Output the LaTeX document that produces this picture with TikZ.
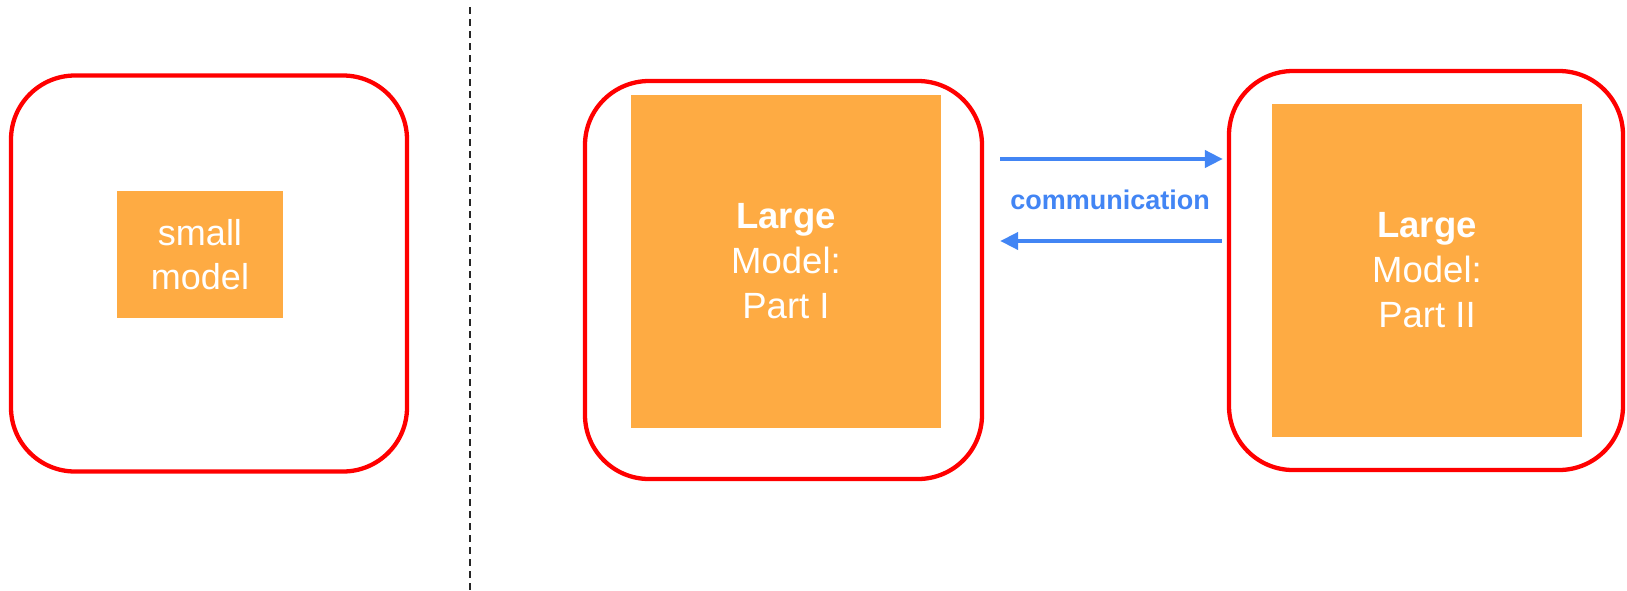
\documentclass[tikz,border=0pt]{standalone}
\usepackage{fontspec}
\setmainfont{Liberation Sans}
\usetikzlibrary{arrows.meta}
\definecolor{boxred}{HTML}{FF0000}
\definecolor{modelorange}{HTML}{FEAB43}
\definecolor{commblue}{HTML}{4285F4}
\tikzset{
  device/.style={draw=boxred, line width=4.3pt, rounded corners=64pt, inner sep=0pt, fill=white},
  model/.style={fill=modelorange, inner sep=0pt, outer sep=0pt, text=white, align=center},
  bigtext/.style={font=\fontsize{36.5}{45}\selectfont},
  smalltext/.style={font=\fontsize{36}{43.5}\selectfont},
  comm/.style={draw=commblue, line width=4pt, -{Triangle[length=18pt,width=17pt]}},
  divider/.style={draw=black!85, line width=1.5pt, dash pattern=on 7pt off 5pt}
}
\begin{document}
\begin{tikzpicture}[x=1pt,y=-1pt]
  \useasboundingbox (0,0) rectangle (1627,590);

  % separator between the single-device and the split setting
  \coordinate (divtop) at (470,7);
  \coordinate (divbot) at (470,590);
  \draw[divider] (divtop) -- (divbot);

  % devices
  \node[device, minimum width=396pt, minimum height=396pt] (leftbox) at (209,273.5) {};
  \node[device, minimum width=397pt, minimum height=398pt] (midbox) at (783.5,280) {};
  \node[device, minimum width=394pt, minimum height=399pt] (rightbox) at (1426,270.5) {};

  % models
  \node[model, smalltext, minimum width=166pt, minimum height=127pt] (small) at (200,254.5) {small\\model};
  \node[model, bigtext, minimum width=310pt, minimum height=333pt] (partone) at (786,261.5) {\textbf{Large}\\Model:\\Part I};
  \node[model, bigtext, minimum width=310pt, minimum height=333pt] (parttwo) at (1427,270.5) {\textbf{Large}\\Model:\\Part II};

  % communication between the two parts
  \coordinate (uplane) at (0,159);
  \coordinate (downlane) at (0,241);
  \draw[comm, shorten <=16pt, shorten >=4pt] (midbox.east |- uplane) -- (rightbox.west |- uplane);
  \draw[comm, shorten <=5pt, shorten >=16pt] (rightbox.west |- downlane) -- (midbox.east |- downlane);
  \node[anchor=base, text=commblue, font=\fontsize{27}{32}\selectfont\bfseries, inner sep=0pt] (commlabel) at (1110,209) {communication};
\end{tikzpicture}
\end{document}
